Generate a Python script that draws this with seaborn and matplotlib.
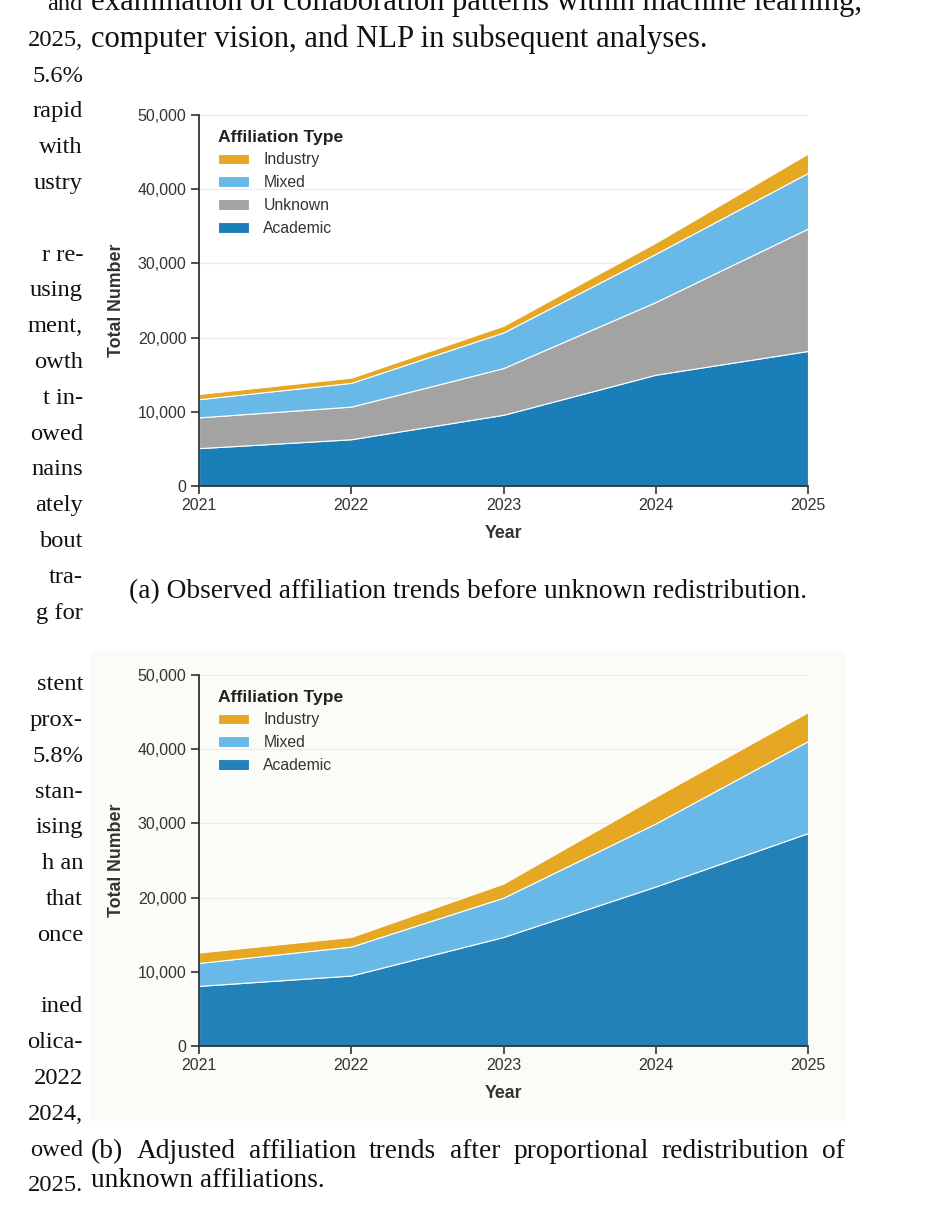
import matplotlib
matplotlib.use("Agg")
import matplotlib.pyplot as plt
from matplotlib.patches import Rectangle
from matplotlib.ticker import FuncFormatter
import pandas as pd
import seaborn as sns

# Data
years = [2021, 2022, 2023, 2024, 2025]

# (a) observed counts, stacked bottom -> top
obs_academic = [5100, 6300, 9600, 15000, 18200]
obs_unknown = [4150, 4400, 6300, 9800, 16500]
obs_mixed = [2450, 3200, 4800, 6500, 7500]
obs_industry = [700, 700, 900, 1500, 2600]

# (b) after proportional redistribution of unknowns
adj_academic = [8100, 9500, 14700, 21500, 28700]
adj_mixed = [3100, 3900, 5300, 8500, 12400]
adj_industry = [1400, 1300, 1900, 3600, 3900]

y_ticks = [0, 10000, 20000, 30000, 40000, 50000]

caption_a = "(a) Observed affiliation trends before unknown redistribution."
caption_b1 = "(b) Adjusted affiliation trends after proportional redistribution of"
caption_b2 = "unknown affiliations."
top_lines = ["examination of collaboration patterns within machine learning,",
             "computer vision, and NLP in subsequent analyses."]
left_lines = ["and", "2025,", "5.6%", "rapid", "with", "ustry", "",
              "r re-", "using", "ment,", "owth", "t in-", "owed", "nains",
              "ately", "bout", "tra-", "g for", "",
              "stent", "prox-", "5.8%", "stan-", "ising", "h an", "that", "once", "",
              "ined", "olica-", "2022", "2024,", "owed", "2025."]

colors = {"Academic": "#1a7fb8", "Unknown": "#a3a3a3",
          "Mixed": "#68b9e8", "Industry": "#e6a722"}

df_obs = pd.DataFrame({"Year": years, "Academic": obs_academic, "Unknown": obs_unknown,
                       "Mixed": obs_mixed, "Industry": obs_industry})
df_adj = pd.DataFrame({"Year": years, "Academic": adj_academic,
                       "Mixed": adj_mixed, "Industry": adj_industry})

sns.set_theme(style="whitegrid")
plt.rcParams['font.family'] = ['Liberation Sans', 'DejaVu Sans']
SERIF = ['Liberation Serif', 'DejaVu Serif']
INK = "#333333"

W, H = 935, 1212
fig = plt.figure(figsize=(W / 100, H / 100), dpi=100)
fig.patch.set_facecolor("white")
renderer = fig.canvas.get_renderer()

# faint off-white backdrop behind panel (b)
fig.patches.append(Rectangle((90 / W, 1 - 1120 / H), 755 / W, 470 / H,
                             transform=fig.transFigure, color="#fbfbf8", zorder=-1))


def draw_panel(ax, df, order, academic_color, face):
    cols = [academic_color if c == "Academic" else colors[c] for c in order]
    ax.stackplot(df["Year"], *[df[c] for c in order], labels=order, colors=cols,
                 edgecolor="white", linewidth=0.8)
    ax.set_facecolor(face)
    ax.set_xlim(2021, 2025)
    ax.set_ylim(0, 50000)
    ax.set_xticks(years)
    ax.set_yticks(y_ticks)
    ax.yaxis.set_major_formatter(FuncFormatter(lambda v, p: f"{v:,.0f}"))
    ax.xaxis.grid(False)
    ax.yaxis.grid(True, color="#ebebeb", linewidth=0.8)
    ax.set_axisbelow(True)
    sns.despine(ax=ax)
    for side in ["left", "bottom"]:
        ax.spines[side].set_color(INK)
        ax.spines[side].set_linewidth(1.3)
    ax.tick_params(direction="out", length=6, width=1.2, color=INK,
                   labelsize=11.5, labelcolor=INK, pad=3, left=True, bottom=True)
    ax.set_xlabel("Year", fontsize=12.8, fontweight="bold", color=INK)
    ax.set_ylabel("Total Number", fontsize=12.8, fontweight="bold", color=INK)
    ax.xaxis.set_label_coords(0.5, -0.105)
    ax.yaxis.set_label_coords(-0.122, 0.5)
    handles, labels = ax.get_legend_handles_labels()
    leg = ax.legend(handles[::-1], labels[::-1], title="Affiliation Type",
                    loc="upper left", bbox_to_anchor=(0.018, 0.982), frameon=False,
                    borderpad=0, fontsize=11.3, handlelength=2.0, handleheight=0.65,
                    handletextpad=0.9, labelspacing=0.5,
                    title_fontproperties={"weight": "bold", "size": 12.6})
    leg._legend_box.align = "left"
    for t in leg.get_texts():
        t.set_color(INK)
    leg.get_title().set_color("#222222")


ax1 = fig.add_axes([199 / W, 1 - 486 / H, 609 / W, 371 / H])
draw_panel(ax1, df_obs, ["Academic", "Unknown", "Mixed", "Industry"], "#1a7fb8", "white")

ax2 = fig.add_axes([199 / W, 1 - 1046 / H, 609 / W, 371 / H])
draw_panel(ax2, df_adj, ["Academic", "Mixed", "Industry"], "#2281b6", "#fbfbf8")


# surrounding page text
def put(x, y, s, size, ha="left"):
    return fig.text(x / W, 1 - y / H, s, fontsize=size, ha=ha, va="baseline",
                    family=SERIF, color="#111111")


def width(t):
    return t.get_window_extent(renderer).width


def fit_size(s, target):
    t = put(0, 0, s, 20)
    w = width(t)
    t.remove()
    return 20 * target / w


def justify(x0, x1, y, s, size):
    words = s.split()
    texts = [put(0, y, w, size) for w in words]
    ws = [width(t) for t in texts]
    gap = (x1 - x0 - sum(ws)) / (len(words) - 1)
    x = x0
    for t, w in zip(texts, ws):
        t.set_x(x / W)
        x += w + gap


body = fit_size(top_lines[1], 616)
cap = fit_size(caption_a, 676)
side = body * 0.8

put(91, 10, top_lines[0], body)
put(91, 47, top_lines[1], body)

for k, s in enumerate(left_lines):
    if s:
        put(83, 10 + 35.8 * k, s, side, ha="right")

put(468, 598, caption_a, cap, ha="center")
justify(91, 845, 1158, caption_b1, cap)
put(91, 1187, caption_b2, cap)

fig.savefig("out.png", dpi=100)
